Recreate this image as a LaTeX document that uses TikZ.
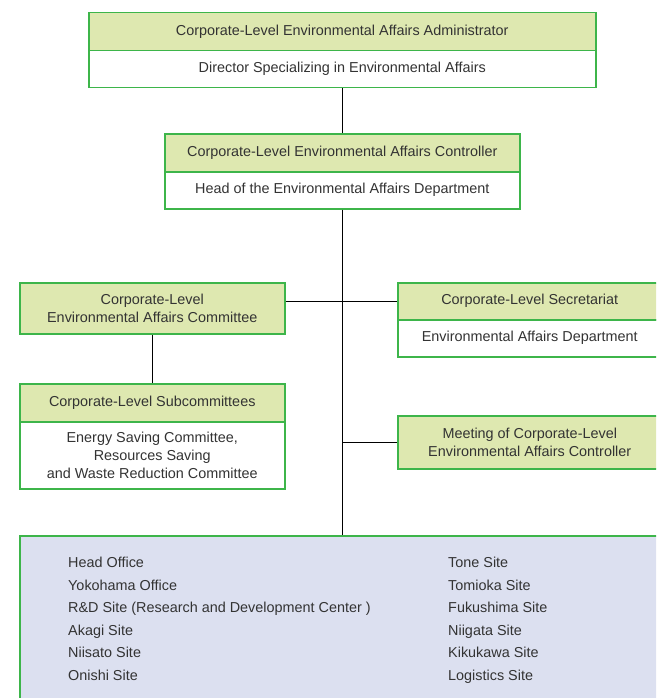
\documentclass[tikz,border=0pt]{standalone}
\usepackage{fontspec}
\setmainfont{Liberation Sans}
\definecolor{boxgreen}{HTML}{3DB54A}
\definecolor{headfill}{HTML}{DEE8B0}
\definecolor{sitefill}{HTML}{DCE0F0}
\definecolor{txt}{HTML}{333333}
\tikzset{
  base/.style={draw=boxgreen, line width=1.5pt, inner sep=0pt, anchor=north west,
    text=txt, align=center, font=\fontsize{14.4pt}{18.4pt}\selectfont},
  hdr/.style={base, fill=headfill},
  bodybox/.style={base, fill=white},
  sitebox/.style={base, fill=sitefill},
  sitetext/.style={anchor=west, inner sep=0pt, text height=10pt, text depth=3pt, text=txt, font=\fontsize{14.4pt}{18.4pt}\selectfont},
  conn/.style={draw=black, line width=1.1pt}
}
\begin{document}
\begin{tikzpicture}[x=1pt, y=-1pt]
\useasboundingbox (0,0) rectangle (656,698);
\clip (0,0) rectangle (656,698);
% top
\node[hdr, minimum width=507pt, minimum height=38pt] (admH) at (88,12) {Corporate-Level Environmental Affairs Administrator};
\node[bodybox, minimum width=507pt, minimum height=37pt] (admB) at (88,50) {Director Specializing in Environmental Affairs};
% controller
\node[hdr, minimum width=355pt, minimum height=38pt] (ctlH) at (164,133) {Corporate-Level Environmental Affairs Controller};
\node[bodybox, minimum width=355pt, minimum height=37pt] (ctlB) at (164,171) {Head of the Environmental Affairs Department};
% committee
\node[hdr, minimum width=265pt, minimum height=51pt] (com) at (19,282) {Corporate-Level\\Environmental Affairs Committee};
% secretariat
\node[hdr, minimum width=264pt, minimum height=37pt] (secH) at (397,282) {Corporate-Level Secretariat};
\node[bodybox, minimum width=264pt, minimum height=37pt] (secB) at (397,319) {Environmental Affairs Department};
% subcommittees
\node[hdr, minimum width=265pt, minimum height=38pt] (subH) at (19,383) {Corporate-Level Subcommittees};
\node[bodybox, minimum width=265pt, minimum height=67pt] (subB) at (19,421) {Energy Saving Committee,\\Resources Saving\\and Waste Reduction Committee};
% meeting
\node[hdr, minimum width=264pt, minimum height=53pt] (meet) at (397,415) {Meeting of Corporate-Level\\Environmental Affairs Controller};
% sites
\node[sitebox, minimum width=642pt, minimum height=180pt] (sites) at (19,535) {};
\foreach \t [count=\i from 0] in {Head Office, Yokohama Office, R\&D Site (Research and Development Center ), Akagi Site, Niisato Site, Onishi Site}
  \node[sitetext] (l\i) at (68,564+22.6*\i) {\t};
\foreach \t [count=\i from 0] in {Tone Site, Tomioka Site, Fukushima Site, Niigata Site, Kikukawa Site, Logistics Site}
  \node[sitetext] (r\i) at (448,564+22.6*\i) {\t};
% connectors
\draw[conn] (admB.south) -- (ctlH.north);
\draw[conn] (ctlB.south) -- (ctlB.south |- sites.north);
\draw[conn] (com.east |- secH.west) -- (secH.west);
\draw[conn] (meet.west) -- (meet.west -| ctlB.south);
\draw[conn] (com.south) -- (subH.north);
\end{tikzpicture}
\end{document}
